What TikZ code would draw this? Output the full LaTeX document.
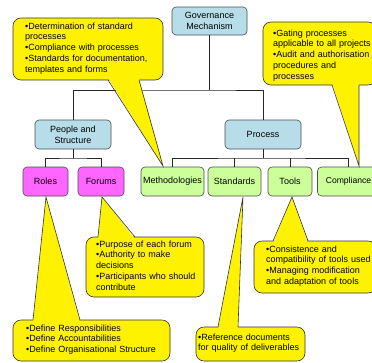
\documentclass[tikz,border=0pt]{standalone}
\usepackage{fontspec}
\setmainfont{Liberation Sans}
\begin{document}
\begin{tikzpicture}[x=1pt,y=-1pt,
  box/.style={draw=black!70, line width=0.6pt, rounded corners=4pt, minimum height=29pt, inner sep=0pt, font=\fontsize{9}{10.8}\selectfont, align=center},
  bluebox/.style={box, fill=lblue},
  pinkbox/.style={box, fill=lpink},
  greenbox/.style={box, fill=lgreen},
  conn/.style={draw=black!85, line width=0.6pt},
  cobox/.style={fill=yellow, draw=black!80, line width=0.6pt, rounded corners=8pt},
  coside/.style={draw=black!80, line width=0.6pt, line join=miter},
  cotext/.style={anchor=base west, inner sep=0pt, align=left, text width=140pt, font=\fontsize{9}{10.8}\selectfont}
]
\definecolor{lblue}{HTML}{B7DDE8}
\definecolor{lpink}{HTML}{FF66FF}
\definecolor{lgreen}{HTML}{CCFF99}
\useasboundingbox (0,0) rectangle (372,362);
\clip (0,0) rectangle (372,362);

% boxes
\node[bluebox, minimum width=75pt, minimum height=28pt] (gov) at (209.5,21) {Governance\\Mechanism};
\node[bluebox, minimum width=76pt] (people) at (73,134.5) {People and\\Structure};
\node[bluebox, minimum width=76pt] (process) at (263,134.5) {Process};
\node[pinkbox, minimum width=45pt] (roles) at (45.5,181.5) {Roles};
\node[pinkbox, minimum width=46pt] (forums) at (101,181.5) {Forums};
\node[greenbox, minimum width=63pt] (meth) at (172.5,181.5) {Methodologies};
\node[greenbox, minimum width=53pt] (stand) at (234.5,181.5) {Standards};
\node[greenbox, minimum width=44pt] (tools) at (290,181.5) {Tools};
\node[greenbox, minimum width=62pt, font=\fontsize{8.6}{10.4}\selectfont] (comp) at (348.5,181.5) {Compliance};

% bus levels
\coordinate (b1) at (0,90);
\coordinate (b2) at (0,158);

% connectors
\draw[conn] (gov.south) -- (gov.south |- b1);
\draw[conn] (people.north) |- (gov.south |- b1) -| (process.north);
\draw[conn] (people.south) -- (people.south |- b2);
\draw[conn] (roles.north) |- (people.south |- b2) -| (forums.north);
\draw[conn] (process.south) -- (process.south |- b2);
\draw[conn] (meth.north) |- (process.south |- b2) -| (comp.north);
\draw[conn] (stand.north) -- (stand.north |- b2);
\draw[conn] (tools.north) -- (tools.north |- b2);

% callout 1 (methodologies)
\coordinate (t1) at (163,166);
\draw[cobox] (13,18) rectangle (163,80);
\fill[yellow] (108,78) -- (t1) -- (139,78) -- cycle;
\draw[coside] (108,80) -- (t1) -- (139,80);
\node[cotext] (c1) at (25,29) {•Determination of standard\\processes\\•Compliance with processes\\•Standards for documentation,\\templates and forms};

% callout 2 (compliance)
\coordinate (t2) at (359,166);
\draw[cobox] (263,22) rectangle (376,85);
\fill[yellow] (332,83) -- (t2) -- (359,83) -- cycle;
\draw[coside] (332,85) -- (t2) -- (359,85);
\node[cotext] (c2) at (273,36) {•Gating processes\\applicable to all projects\\•Audit and authorisation\\procedures and\\processes};

% callout 3 (forums)
\coordinate (t3) at (102,197);
\draw[cobox] (86,237) rectangle (204,297);
\fill[yellow] (98,239) -- (t3) -- (135,239) -- cycle;
\draw[coside] (98,237) -- (t3) -- (135,237);
\node[cotext] (c3) at (96,247) {•Purpose of each forum\\•Authority to make\\decisions\\•Participants who should\\contribute};

% callout 4 (roles)
\coordinate (t4) at (46,197);
\draw[cobox] (13,320) rectangle (170,361);
\fill[yellow] (33,322) -- (t4) -- (80,322) -- cycle;
\draw[coside] (33,320) -- (t4) -- (80,320);
\node[cotext, text width=150pt] (c4) at (26,331) {•Define Responsibilities\\•Define Accountabilities\\•Define Organisational Structure};

% callout 5 (tools)
\coordinate (t5) at (292,197);
\draw[cobox] (254,241) rectangle (376,293);
\fill[yellow] (273,243) -- (t5) -- (308,243) -- cycle;
\draw[coside] (273,241) -- (t5) -- (308,241);
\node[cotext] (c5) at (266,252) {•Consistence and\\compatibility of tools used\\•Managing modification\\and adaptation of tools};

% callout 6 (standards)
\coordinate (t6) at (243,197);
\draw[cobox] (196,327) rectangle (305,361);
\fill[yellow] (218,329) -- (t6) -- (238,329) -- cycle;
\draw[coside] (218,327) -- (t6) -- (238,327);
\node[cotext] (c6) at (198,340) {•Reference documents\\for quality of deliverables};
\end{tikzpicture}
\end{document}
